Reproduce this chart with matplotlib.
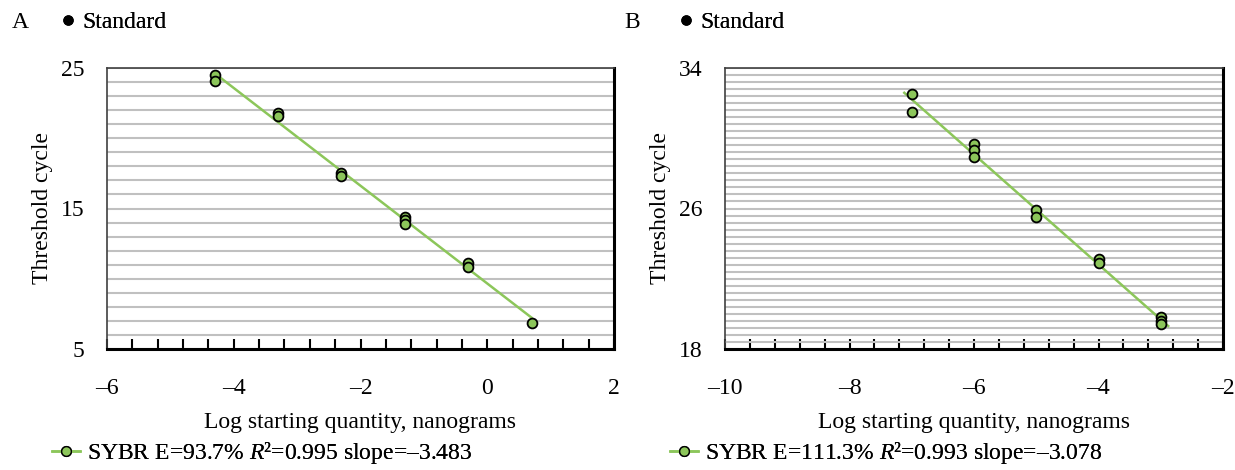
import numpy as np
import matplotlib
matplotlib.use("Agg")
import matplotlib.pyplot as plt
from matplotlib.lines import Line2D
from matplotlib.ticker import MultipleLocator, FixedLocator, FuncFormatter

plt.rcParams['font.family'] = ['Liberation Serif', 'DejaVu Serif']
plt.rcParams['mathtext.fontset'] = 'custom'
plt.rcParams['mathtext.rm'] = 'Liberation Serif'
plt.rcParams['mathtext.it'] = 'Liberation Serif:italic'

# Panel A data (log ng vs Ct)
xa = [-4.3, -4.3, -3.3, -3.3, -2.3, -2.3, -1.3, -1.3, -1.3, -0.3, -0.3, 0.7]
ya = [24.5, 24.1, 21.8, 21.6, 17.5, 17.3, 14.4, 14.15, 13.9, 11.1, 10.85, 6.85]
label_a = "SYBR E=93.7% $\\mathit{R}$²=0.995 slope=–3.483"

# Panel B data
xb = [-7, -7, -6, -6, -6, -5, -5, -4, -4, -3, -3, -3]
yb = [32.5, 31.5, 29.7, 29.35, 28.95, 25.9, 25.5, 23.15, 22.9, 19.8, 19.6, 19.4]
label_b = "SYBR E=111.3% $\\mathit{R}$²=0.993 slope=–3.078"

green = '#8cc65a'
W, H = 1235, 470
FS = 17

fig = plt.figure(figsize=(12.35, 4.70), dpi=100)


def dash_fmt(v, pos):
    s = f"{v:g}"
    return s.replace('-', '–')


def panel(rect, x, y, xlim, ylim, ymajor, ygrid, ext, letter, label, letter_off):
    l, r, t, b = rect
    ax = fig.add_axes([l / W, 1 - b / H, (r - l) / W, (b - t) / H])
    x = np.array(x)
    y = np.array(y)
    k, c = np.polyfit(x, y, 1)
    xs = np.array([x.min() - ext, x.max() + ext])
    ax.plot(xs, k * xs + c, color=green, lw=1.8, zorder=3)
    ax.scatter(x, y, s=50, color=green, edgecolors='black', linewidths=1.3, zorder=4)

    ax.set_xlim(*xlim)
    ax.set_ylim(*ylim)
    ax.xaxis.set_major_locator(MultipleLocator(2))
    ax.xaxis.set_minor_locator(MultipleLocator(0.4))
    ax.xaxis.set_major_formatter(FuncFormatter(dash_fmt))
    ax.yaxis.set_major_locator(FixedLocator(np.arange(ylim[0], ylim[1] + 0.01, ymajor)))
    ax.yaxis.set_minor_locator(MultipleLocator(ygrid))
    ax.yaxis.set_major_formatter(FuncFormatter(dash_fmt))
    ax.tick_params(axis='x', which='major', direction='in', length=7, width=1.5,
                   labelsize=FS, pad=21)
    ax.tick_params(axis='x', which='minor', direction='in', length=7, width=1.5)
    ax.tick_params(axis='y', which='both', length=0, labelsize=FS, pad=16)
    ax.grid(True, axis='y', which='both', color='#c0c0c0', lw=1.5, zorder=0)
    ax.set_axisbelow(True)
    for s in ['top', 'left']:
        ax.spines[s].set_linewidth(1.2)
        ax.spines[s].set_color('#404040')
    for s in ['bottom', 'right']:
        ax.spines[s].set_linewidth(2.2)
        ax.spines[s].set_color('black')

    ax.set_xlabel("Log starting quantity, nanograms", fontsize=FS, labelpad=9)
    ax.set_ylabel("Threshold cycle", fontsize=FS, labelpad=6)

    fig.text((l - letter_off) / W, 1 - 22 / H, letter, fontsize=FS, va='center')
    h_std = Line2D([], [], ls='none', marker='o', color='black', ms=6.5)
    leg1 = fig.legend([h_std], ["Standard"], loc='center left', frameon=False,
                      bbox_to_anchor=((l - 56) / W, 1 - 22 / H), fontsize=FS,
                      handlelength=0.4, handletextpad=0.45, borderpad=0)
    fig.add_artist(leg1)
    h_fit = Line2D([], [], color=green, lw=1.8, marker='o', mfc=green, mec='black', ms=7)
    leg2 = fig.legend([h_fit], [label], loc='center left', frameon=False,
                      bbox_to_anchor=((l - 67) / W, 1 - 453 / H), fontsize=FS,
                      handlelength=1.2, handletextpad=0.3, borderpad=0)
    fig.add_artist(leg2)
    return ax


panel((107, 614, 68, 349), xa, ya, (-6, 2), (5, 25), 10, 1, 0.0, "A", label_a, 95)
panel((725, 1223, 68, 349), xb, yb, (-10, -2), (18, 34), 8, 0.4, 0.12, "B", label_b, 101)

fig.savefig("out.png", dpi=100)
